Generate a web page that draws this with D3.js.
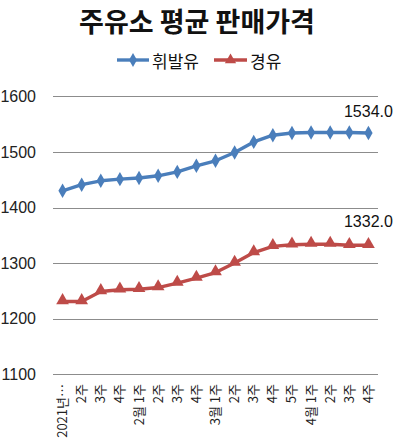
<!DOCTYPE html>
<html><head><meta charset="utf-8">
<script src="https://cdn.jsdelivr.net/npm/d3@7/dist/d3.min.js"></script>
<style>
html,body{margin:0;padding:0;background:#fff;}
svg{display:block;}
</style></head>
<body>
<svg id="chart" width="397" height="441"></svg>
<script>
const categories = ["2021년…","2주","3주","4주","2월 1주","2주","3주","4주","3월 1주","2주","3주","4주","5주","4월 1주","2주","3주","4주"];
const gasoline = [1430,1441,1448,1451,1453,1457,1464,1475,1484,1499,1518,1530,1534,1535,1535,1535,1534];
const diesel = [1231,1231,1249,1252,1253,1256,1264,1273,1283,1300,1319,1330,1333,1334,1334,1332,1332];
const seriesNames = ["휘발유","경유"];
const yTicks = [1100,1200,1300,1400,1500,1600];
const title = "주유소 평균 판매가격";

const svg = d3.select("#chart");
const kfont = "'Noto Sans CJK KR','Noto Sans',sans-serif";
const nfont = "'Liberation Sans',Arial,sans-serif";
const blue = "#4a7ebb", red = "#be4b48";

const x = d3.scaleBand().domain(d3.range(categories.length)).range([53,378]);
const y = d3.scaleLinear().domain([1100,1600]).range([374.3,96.3]);

// title
svg.append("text").attr("x",197).attr("y",32).attr("text-anchor","middle")
  .attr("font-family",kfont).attr("font-weight","bold").attr("font-size",27)
  .attr("fill","#111").text(title);

// grid
svg.append("g").selectAll("line").data(yTicks).join("line")
  .attr("x1",53).attr("x2",378).attr("y1",d=>Math.round(y(d))+0.5).attr("y2",d=>Math.round(y(d))+0.5)
  .attr("stroke","#8c8c8c").attr("stroke-width",1);

// y axis labels
const yAxis = d3.axisLeft(y).tickValues(yTicks).tickSize(0).tickPadding(0).tickFormat(d3.format("d"));
const ya = svg.append("g").attr("transform","translate(36,0)").call(yAxis);
ya.select(".domain").remove();
ya.selectAll("text").attr("font-family",nfont).attr("font-size",16).attr("fill","#222");

// x axis labels
const xAxis = d3.axisBottom(x).tickFormat(i=>categories[i]).tickSize(0).tickPadding(0);
const xa = svg.append("g").attr("transform","translate(0,374)").call(xAxis);
xa.select(".domain").remove();
xa.selectAll("text").attr("font-family",kfont).attr("font-size",13).attr("fill","#222")
  .attr("text-anchor","end").attr("dy",null)
  .attr("transform","translate(4.5,10) rotate(-90)");

const cx = i => x(i) + x.bandwidth()/2;
const line = d3.line().x((d,i)=>cx(i)).y(d=>y(d));

function drawSeries(data, color, symType, symSize, ydy) {
  svg.append("path").datum(data).attr("d",line).attr("fill","none")
    .attr("stroke",color).attr("stroke-width",3.4).attr("stroke-linejoin","round");
  const sym = d3.symbol().type(symType).size(symSize);
  svg.append("g").selectAll("path").data(data).join("path")
    .attr("d",sym).attr("fill",color)
    .attr("transform",(d,i)=>`translate(${cx(i)},${y(d)+ydy})`);
}
drawSeries(gasoline, blue, d3.symbolDiamond, 60, 0);
drawSeries(diesel, red, d3.symbolTriangle, 70, -1);

// end labels
const last = categories.length-1;
[[gasoline,15.5],[diesel,18]].forEach(([data,off])=>{
  svg.append("text").attr("x",cx(last)).attr("y",y(data[last])-off)
    .attr("text-anchor","middle").attr("font-family",nfont).attr("font-size",16)
    .attr("fill","#111").text(data[last].toFixed(1));
});

// legend
const legend = [[seriesNames[0],blue,d3.symbolDiamond,117,149,152],[seriesNames[1],red,d3.symbolTriangle,214,247,250]];
legend.forEach(([name,color,type,x1,x2,tx])=>{
  svg.append("line").attr("x1",x1).attr("x2",x2).attr("y1",60).attr("y2",60)
    .attr("stroke",color).attr("stroke-width",3.4);
  svg.append("path").attr("d",d3.symbol().type(type).size(55)).attr("fill",color)
    .attr("transform",`translate(${(x1+x2)/2},60)`);
  svg.append("text").attr("x",tx).attr("y",60).attr("dominant-baseline","central")
    .attr("font-family",kfont).attr("font-size",17).attr("fill","#111").text(name);
});
</script>
</body></html>
